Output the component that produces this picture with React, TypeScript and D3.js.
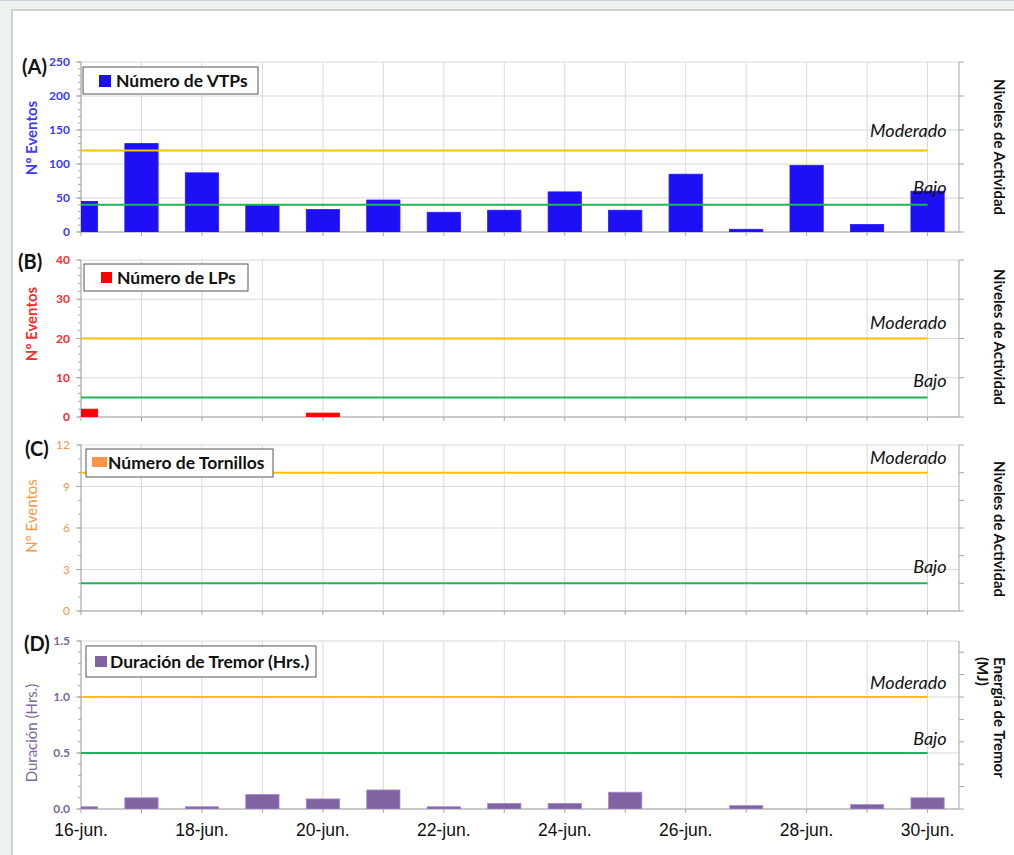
import React from 'react';
import * as d3 from 'd3';

// days of June shown on the x axis
const days = [16, 17, 18, 19, 20, 21, 22, 23, 24, 25, 26, 27, 28, 29, 30];
const dateTicks = [16, 18, 20, 22, 24, 26, 28, 30];
const dateLabels = ['16-jun.', '18-jun.', '20-jun.', '22-jun.', '24-jun.', '26-jun.', '28-jun.', '30-jun.'];

// series, one value per day
const vtpCounts = [45, 130, 87, 40, 33, 47, 29, 32, 59, 32, 85, 4, 98, 11, 60];
const lpCounts = [2, 0, 0, 0, 1, 0, 0, 0, 0, 0, 0, 0, 0, 0, 0];
const tornilloCounts = [0, 0, 0, 0, 0, 0, 0, 0, 0, 0, 0, 0, 0, 0, 0];
const tremorHours = [0.02, 0.1, 0.02, 0.13, 0.09, 0.17, 0.02, 0.05, 0.05, 0.15, 0, 0.03, 0, 0.04, 0.1];

// activity thresholds per panel (A, B, C, D)
const moderadoLevels = [120, 20, 10, 1.0];
const bajoLevels = [40, 5, 2, 0.5];

const yMax = [250, 40, 12, 1.5];
const yStep = [50, 10, 3, 0.5];
const yMinor = [10, 2, 1, 0.1];

const panelLetters = ['(A)', '(B)', '(C)', '(D)'];
const legendNames = ['Número de VTPs', 'Número de LPs', 'Número de Tornillos', 'Duración de Tremor (Hrs.)'];
const yTitles = ['Nº Eventos', 'Nº Eventos', 'Nº Eventos', 'Duración (Hrs.)'];

const FONT = 'Lato, "Open Sans", sans-serif';
const LEFT = 81;
const RIGHT = 959;
const MODERADO = '#ffc000';
const BAJO = '#21b35a';
const GRID = '#dadada';
const AXIS = '#a6a6a6';

const panels = [
  {
    data: vtpCounts, top: 62, bottom: 232, bar: '#1e10f4', tick: '#3a3aff', tickBold: true, titleBold: true,
    letter: { x: 22, y: 74 }, legend: { x: 83, y: 67, w: 175, h: 27, mx: 99, my: 75, mw: 12, mh: 12, tx: 116 },
    titleY: 138, secTicks: 5, rightLabelY: 147, modDy: 13, bajoDy: 11,
  },
  {
    data: lpCounts, top: 260, bottom: 417, bar: '#ff0000', tick: '#ff2a2a', tickBold: true, titleBold: true,
    letter: { x: 18, y: 269 }, legend: { x: 84, y: 264, w: 164, h: 27, mx: 101, my: 272, mw: 11, mh: 11, tx: 117 },
    titleY: 324, secTicks: 4, rightLabelY: 337, modDy: 10, bajoDy: 10,
  },
  {
    data: tornilloCounts, top: 445, bottom: 611, bar: '#f79646', tick: '#f79646', tickBold: false, titleBold: false,
    letter: { x: 25, y: 456 }, legend: { x: 86, y: 449, w: 187, h: 28, mx: 92, my: 457, mw: 15, mh: 10, tx: 108 },
    titleY: 516, secTicks: 6, rightLabelY: 529, modDy: 9, bajoDy: 10,
  },
  {
    data: tremorHours, top: 641, bottom: 809, bar: '#8064a2', tick: '#8064a2', tickBold: true, titleBold: false,
    letter: { x: 24, y: 651 }, legend: { x: 86, y: 646, w: 230, h: 31, mx: 95, my: 656, mw: 12, mh: 11, tx: 110 },
    titleY: 733, secTicks: 7.5, rightLabelY: 0, modDy: 8, bajoDy: 8,
  },
];

const x = d3.scaleLinear().domain([16, 30.52]).range([LEFT, RIGHT]);
const barW = x(16.55) - x(16);

const Panel: React.FC<{ i: number }> = ({ i }) => {
  const p = panels[i];
  const y = d3.scaleLinear().domain([0, yMax[i]]).range([p.bottom, p.top]);
  const majors = d3.range(0, yMax[i] + yStep[i] / 2, yStep[i]);
  const minors = d3.range(0, yMax[i] + yMinor[i] / 2, yMinor[i]);
  const fmt = i === 3 ? d3.format('.1f') : d3.format('d');
  const secStep = (p.bottom - p.top) / p.secTicks;
  const secTicks = d3.range(0, Math.floor(p.secTicks) + 1).map(k => p.bottom - k * secStep);
  const clipId = `clip-${i}`;
  const lg = p.legend;
  const levels = [
    { v: moderadoLevels[i], c: MODERADO, name: 'Moderado', dy: p.modDy },
    { v: bajoLevels[i], c: BAJO, name: 'Bajo', dy: p.bajoDy },
  ];

  return (
    <g>
      <defs>
        <clipPath id={clipId}>
          <rect x={LEFT} y={p.top - 1} width={RIGHT - LEFT} height={p.bottom - p.top + 1} />
        </clipPath>
      </defs>

      {/* grid */}
      {days.map(d => (
        <line key={'v' + d} x1={x(d)} x2={x(d)} y1={p.top} y2={p.bottom} stroke={GRID} />
      ))}
      {majors.map(v => (
        <line key={'h' + v} x1={LEFT} x2={RIGHT} y1={y(v)} y2={y(v)} stroke={GRID} strokeWidth={1.2} />
      ))}

      {/* axes */}
      <line x1={LEFT} x2={LEFT} y1={p.top} y2={p.bottom} stroke={AXIS} />
      <line x1={RIGHT} x2={RIGHT} y1={p.top} y2={p.bottom} stroke={AXIS} />
      <line x1={LEFT} x2={RIGHT} y1={p.bottom} y2={p.bottom} stroke={AXIS} />
      {minors.map(v => (
        <line key={'mi' + v} x1={LEFT - 3} x2={LEFT} y1={y(v)} y2={y(v)} stroke={AXIS} />
      ))}
      {majors.map(v => (
        <line key={'ma' + v} x1={LEFT - 5} x2={LEFT} y1={y(v)} y2={y(v)} stroke={AXIS} />
      ))}
      {secTicks.map((s, k) => (
        <line key={'s' + k} x1={RIGHT} x2={RIGHT + 5} y1={s} y2={s} stroke={AXIS} />
      ))}
      {days.map(d => (
        <line key={'t' + d} x1={x(d)} x2={x(d)} y1={p.bottom} y2={p.bottom + 4} stroke={AXIS} />
      ))}

      {majors.map(v => (
        <text key={'l' + v} x={70} y={y(v)} dy="0.35em" textAnchor="end" fill={p.tick}
          fontSize={12} fontWeight={p.tickBold ? 700 : 400} fontFamily={FONT}>{fmt(v)}</text>
      ))}

      {/* bars */}
      <g clipPath={`url(#${clipId})`}>
        {p.data.map((v, k) => v > 0 && (
          <rect key={k} x={x(days[k]) - barW / 2} y={y(v)} width={barW} height={p.bottom - y(v)}
            fill={p.bar} stroke={d3.color(p.bar)!.brighter(0.8).toString()} strokeWidth={0.8} />
        ))}
      </g>

      {/* thresholds */}
      {levels.map(l => (
        <g key={l.name}>
          <line x1={x(16)} x2={x(30)} y1={y(l.v)} y2={y(l.v)} stroke={l.c} strokeWidth={2} />
          <text x={x(30) + 19} y={y(l.v) - l.dy} textAnchor="end" fontStyle="italic" fontSize={18}
            fontFamily={FONT} fill="#111">{l.name}</text>
        </g>
      ))}

      {/* legend */}
      <rect x={lg.x} y={lg.y} width={lg.w} height={lg.h} fill="#fff" stroke="#555" />
      <rect x={lg.mx} y={lg.my} width={lg.mw} height={lg.mh} fill={p.bar} />
      <text x={lg.tx} y={lg.y + lg.h / 2} dy="0.36em" fontSize={17.5} fontWeight={700} fontFamily={FONT}
        fill="#111">{legendNames[i]}</text>

      {/* labels */}
      <text x={p.letter.x} y={p.letter.y} fontSize={20} fontWeight={700} fontFamily={FONT} fill="#111">
        {panelLetters[i]}
      </text>
      <text transform={`translate(32,${p.titleY}) rotate(-90)`} textAnchor="middle" dy="0.35em"
        fontSize={15} fontWeight={p.titleBold ? 700 : 400} fontFamily={FONT} fill={p.tick}>{yTitles[i]}</text>
      {i < 3 ? (
        <text transform={`translate(999,${p.rightLabelY}) rotate(90)`} textAnchor="middle" dy="0.35em"
          fontSize={15} fontWeight={700} fontFamily={FONT} fill="#111">Niveles de Actividad</text>
      ) : (
        <text transform="translate(999,657) rotate(90)" fontSize={15} fontWeight={700} fontFamily={FONT} fill="#111">
          <tspan x={0} dy="0.35em">Energía de Tremor</tspan>
          <tspan x={0} dy="1.1em">(MJ)</tspan>
        </text>
      )}
    </g>
  );
};

const App: React.FC = () => {
  return (
    <svg width={1014} height={855} style={{ position: 'absolute', left: 0, top: 0, display: 'block' }}>
      <rect x={0} y={0} width={1014} height={855} fill="#eef3ef" />
      <line x1={0} x2={1014} y1={0.5} y2={0.5} stroke="#c9d3df" />
      <rect x={12} y={10} width={1010} height={860} fill="#fff" stroke="#c3c3c3" strokeWidth={1.5} />
      {panels.map((_, i) => <Panel key={i} i={i} />)}
      {dateTicks.map((d, k) => (
        <text key={d} x={x(d)} y={836} textAnchor="middle" fontSize={17.5}
          fontFamily='"Liberation Sans", Arial, sans-serif' fill="#111">{dateLabels[k]}</text>
      ))}
    </svg>
  );
};

export default App;
